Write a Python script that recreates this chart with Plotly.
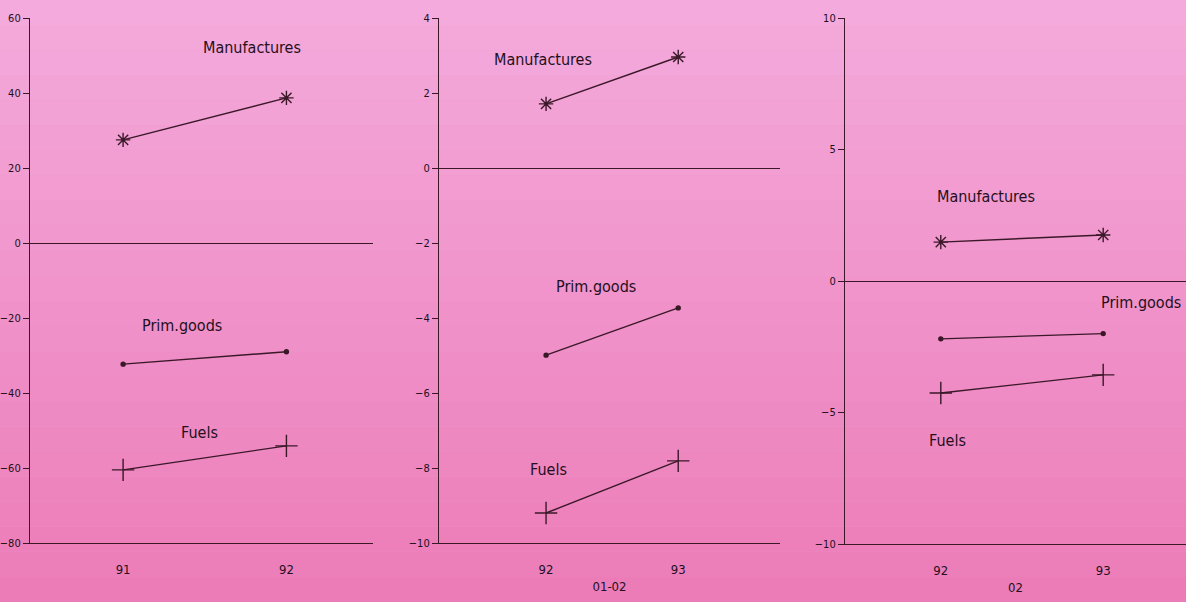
import plotly.graph_objects as go
from plotly.subplots import make_subplots

# panel 1: 91-92, panel 2: 92-93 (01-02), panel 3: 92-93 (02)
years_p1 = [91, 92]
years_p2 = [92, 93]
years_p3 = [92, 93]

manuf_p1 = [27.5, 38.7]
prim_p1 = [-32.3, -29.0]
fuels_p1 = [-60.5, -54.1]

manuf_p2 = [1.71, 2.96]
prim_p2 = [-4.99, -3.73]
fuels_p2 = [-9.2, -7.81]

manuf_p3 = [1.48, 1.75]
prim_p3 = [-2.2, -2.0]
fuels_p3 = [-4.26, -3.57]

series_names = ["Manufactures", "Prim.goods", "Fuels"]

INK = "#3a1828"
TXT = "#24101c"
FONT = "DejaVu Sans Condensed, Liberation Sans Narrow, Liberation Sans, sans-serif"

fig = make_subplots(rows=1, cols=3)

panels = [
    (years_p1, [manuf_p1, prim_p1, fuels_p1]),
    (years_p2, [manuf_p2, prim_p2, fuels_p2]),
    (years_p3, [manuf_p3, prim_p3, fuels_p3]),
]
symbols = ["asterisk-open", "circle", "cross-thin-open"]
sizes = [12, 4, 16]

for col, (years, vals) in enumerate(panels, start=1):
    for name, v, sym, sz in zip(series_names, vals, symbols, sizes):
        fig.add_trace(go.Scatter(x=years, y=v, mode="lines+markers", name=name,
                                 line=dict(color=INK, width=1.4),
                                 marker=dict(symbol=sym, size=sz, color=INK,
                                             line=dict(color=INK, width=1.4))),
                      row=1, col=col)

# label positions (data coords) per panel
labels = [
    [(91.79, 52), (91.36, -21.9), (91.47, -50.4)],
    [(91.98, 2.88), (92.38, -3.17), (92.02, -8.05)],
    [(92.28, 3.23), (93.23, -0.8), (92.04, -6.05)],
]
for col, pos in enumerate(labels, start=1):
    for name, (lx, ly) in zip(series_names, pos):
        fig.add_annotation(x=lx, y=ly, text=name, showarrow=False,
                           font=dict(family=FONT, size=16, color=TXT),
                           row=1, col=col)

xdomains = [[30/1186, 373/1186], [439/1186, 780/1186], [845/1186, 1.0]]
ydomains = [[1-543/602, 1-18/602], [1-543/602, 1-18/602], [1-544/602, 1-18/602]]
xranges = [[90.43, 92.53], [91.19, 93.77], [91.41, 93.51]]
yranges = [[-80, 60], [-10, 4], [-10, 10]]
ydticks = [20, 2, 5]
xtitles = ["", "01-02", "02"]

for i in range(3):
    fig.update_xaxes(domain=xdomains[i], range=xranges[i], tickvals=years_p1 if i == 0 else years_p2,
                     showline=True, linecolor=INK, linewidth=1.2, showgrid=False, zeroline=False,
                     ticks="outside", ticklen=14, tickcolor="rgba(0,0,0,0)", automargin=False,
                     tickfont=dict(family=FONT, size=13, color=TXT),
                     title=dict(text=xtitles[i], font=dict(family=FONT, size=13, color=TXT), standoff=6),
                     row=1, col=i+1)
    fig.update_yaxes(domain=ydomains[i], range=yranges[i], dtick=ydticks[i],
                     showline=True, linecolor=INK, linewidth=1.2, showgrid=False,
                     zeroline=True, zerolinecolor=INK, zerolinewidth=1.2,
                     ticks="outside", ticklen=6, tickcolor=INK, automargin=False,
                     tickfont=dict(family=FONT, size=11, color=TXT),
                     row=1, col=i+1)

# scanned-paper look: light lavender pink at top fading to a warmer pink at bottom
top = (244, 170, 220)
bot = (236, 124, 184)
nb = 24
for k in range(nb):
    t = k / (nb - 1)
    c = tuple(round(top[j] + (bot[j] - top[j]) * t) for j in range(3))
    fig.add_shape(type="rect", xref="paper", yref="paper", layer="below",
                  x0=0, x1=1, y0=1 - (k + 1) / nb, y1=1 - k / nb,
                  fillcolor="rgb(%d,%d,%d)" % c, line=dict(width=0))

fig.update_layout(width=1186, height=602, showlegend=False,
                  paper_bgcolor="rgb(240,150,205)", plot_bgcolor="rgba(0,0,0,0)",
                  margin=dict(l=0, r=0, t=0, b=0))

fig.write_html("out.html", config={"displayModeBar": False},
               post_script="document.body.style.margin='0';")
